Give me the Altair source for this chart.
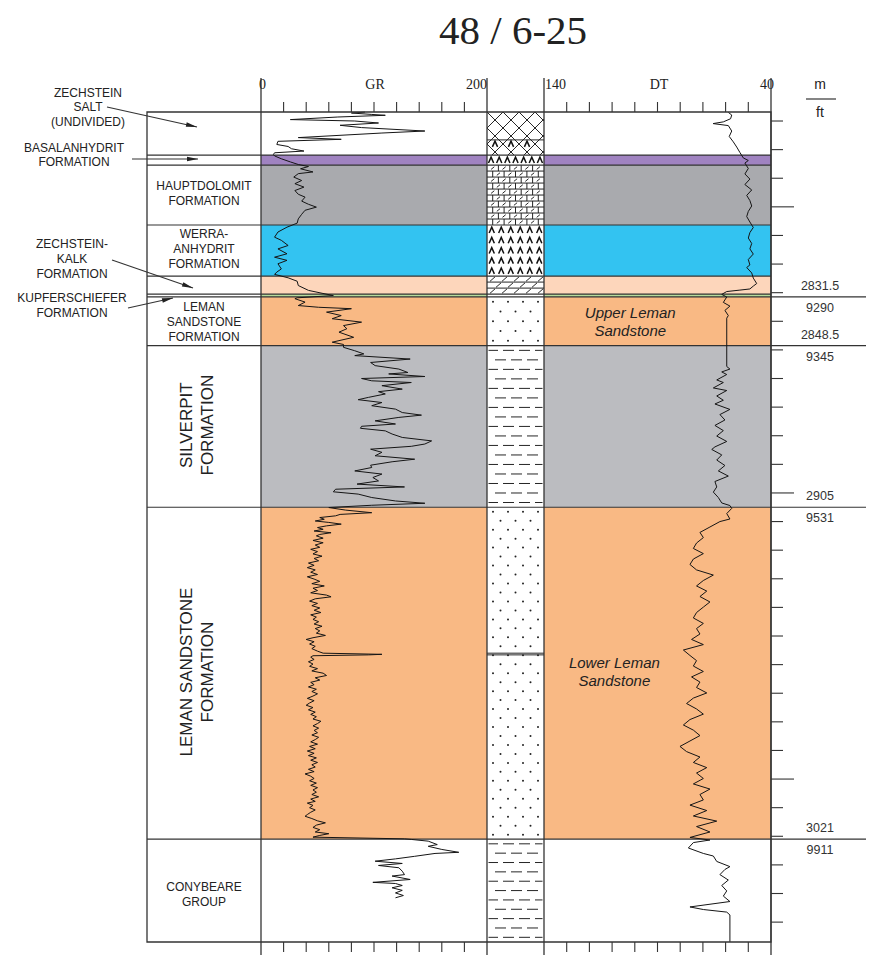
import altair as alt
import numpy as np
import pandas as pd

TITLE = "48 / 6-25"
DEPTH_TOP, DEPTH_BOT = 2766.85, 3056.95

# ---- formations (metres) ----
form_top = [2766.85, 2781.9, 2785.4, 2806.35, 2824.2, 2830.5, 2831.5, 2848.5, 2905.0, 3021.0]
form_bot = form_top[1:] + [DEPTH_BOT]
form_color = ["#ffffff", "#a083c1", "#a9aaae", "#33c3f1", "#fdd6bb", "#b7db9c",
              "#f9b984", "#bbbcc0", "#f9b984", "#ffffff"]

# ---- lithology column ----
lith_top = [2766.85, 2776.6, 2781.9, 2785.4, 2806.35, 2824.2, 2830.5, 2831.5, 2848.5, 2905.0, 3021.0]
lith_kind = ["salt", "salt_anhydrite", "anhydrite", "dolomite", "anhydrite", "limestone",
             "none", "sand", "shale", "sand", "shale"]
lith_breaks = [2956.3]

# ---- depth annotations ----
major_m = [2831.5, 2848.5, 2905.0, 3021.0]
major_m_label = ["2831.5", "2848.5", "2905", "3021"]
major_ft_label = ["9290", "9345", "9531", "9911"]
depth_ticks = list(range(2770, 3051, 10))
gr_ticks = list(range(20, 200, 20))
dt_ticks = list(range(50, 140, 10))

# ---- GR log (API) ----
gr_depth = [
    2766.9, 2767.2, 2767.7, 2768.0, 2768.6, 2769.5, 2770.0, 2770.7, 2771.5, 2772.3, 2773.5, 2774.2,
    2775.8, 2776.4, 2777.1, 2778.2, 2778.9, 2779.7, 2780.5, 2781.1, 2781.7, 2782.2, 2783.2, 2784.3,
    2785.2, 2785.9, 2786.7, 2787.8, 2788.4, 2789.6, 2790.8, 2791.9, 2793.1, 2794.3, 2795.6, 2796.6,
    2798.0, 2799.1, 2800.1, 2801.2, 2802.6, 2804.2, 2805.7, 2807.1, 2808.8, 2810.6, 2811.7, 2813.5,
    2814.7, 2816.4, 2817.6, 2818.7, 2819.9, 2821.7, 2822.8, 2823.6, 2824.8, 2826.0, 2827.5, 2829.2,
    2830.2, 2831.0, 2831.8, 2832.1, 2833.3, 2834.5, 2835.1, 2835.6, 2836.8, 2838.0, 2839.1, 2840.3,
    2841.5, 2842.6, 2843.8, 2845.6, 2847.3, 2848.1, 2849.1, 2850.3, 2851.4, 2852.0, 2853.2, 2854.4,
    2855.5, 2856.7, 2857.9, 2858.4, 2859.3, 2860.0, 2860.8, 2861.4, 2862.5, 2863.7, 2864.6, 2865.4,
    2866.6, 2867.4, 2868.4, 2869.5, 2870.7, 2871.9, 2872.8, 2873.6, 2874.8, 2875.9, 2876.7, 2877.4,
    2878.3, 2879.4, 2880.6, 2881.8, 2882.9, 2883.7, 2884.7, 2885.8, 2887.0, 2888.2, 2889.1, 2890.3,
    2891.1, 2892.3, 2893.4, 2894.6, 2895.8, 2896.9, 2897.9, 2898.7, 2899.6, 2900.4, 2901.6, 2902.8,
    2903.6, 2904.3, 2905.1, 2906.0, 2906.9, 2907.5, 2908.0, 2908.6, 2909.2, 2909.8, 2910.3, 2910.9,
    2911.5, 2912.1, 2912.7, 2913.3, 2913.9, 2914.5, 2915.0, 2915.8, 2916.6, 2917.4, 2918.2, 2919.0,
    2919.7, 2920.5, 2921.3, 2922.1, 2922.9, 2923.7, 2924.5, 2925.3, 2926.1, 2926.9, 2927.7, 2928.5,
    2929.3, 2930.1, 2930.9, 2931.7, 2932.5, 2933.3, 2934.1, 2934.9, 2935.7, 2936.3, 2937.0, 2937.8,
    2938.6, 2939.4, 2940.2, 2941.0, 2941.8, 2942.6, 2943.4, 2944.2, 2945.0, 2945.8, 2946.6, 2947.4,
    2948.2, 2949.0, 2949.8, 2950.6, 2951.2, 2952.0, 2952.8, 2953.6, 2954.4, 2955.3, 2956.0, 2956.4,
    2956.6, 2956.9, 2957.4, 2958.2, 2959.0, 2959.8, 2960.6, 2961.4, 2962.2, 2963.0, 2963.8, 2964.6,
    2965.4, 2966.2, 2967.0, 2967.8, 2968.6, 2969.4, 2970.2, 2971.0, 2971.8, 2972.6, 2973.4, 2974.2,
    2975.0, 2975.8, 2976.6, 2977.4, 2978.2, 2979.0, 2979.8, 2980.6, 2981.4, 2982.2, 2983.0, 2983.8,
    2984.6, 2985.4, 2986.2, 2987.0, 2987.8, 2988.6, 2989.4, 2990.2, 2991.0, 2991.8, 2992.6, 2993.4,
    2994.2, 2995.0, 2995.8, 2996.6, 2997.4, 2998.2, 2999.0, 2999.8, 3000.6, 3001.4, 3002.2, 3003.0,
    3003.8, 3004.6, 3005.4, 3006.2, 3007.0, 3007.8, 3008.4, 3009.2, 3010.0, 3010.8, 3011.6, 3012.4,
    3013.0, 3013.8, 3014.6, 3015.3, 3016.1, 3016.9, 3017.7, 3018.5, 3019.1, 3019.7, 3020.3, 3020.9,
    3021.1, 3021.7, 3022.9, 3023.5, 3024.6, 3025.6, 3026.0, 3027.0, 3027.9, 3028.7, 3029.5, 3030.2,
    3031.0, 3032.2, 3033.4, 3033.9, 3035.1, 3036.1, 3036.5, 3037.2, 3038.0, 3038.9, 3039.8, 3040.7,
    3041.5,
]
gr_value = [
    92, 80, 98, 110, 68, 26, 83, 104, 70, 89, 145, 107,
    33, 71, 15, 14, 24, 27, 38, 12, 11, 12, 18, 26,
    33, 42, 35, 46, 33, 29, 36, 30, 38, 30, 33, 39,
    36, 42, 49, 39, 36, 33, 32, 23, 15, 12, 18, 24,
    15, 23, 12, 23, 15, 18, 14, 12, 24, 32, 33, 42,
    54, 64, 32, 30, 39, 33, 51, 80, 58, 71, 63, 89,
    73, 76, 69, 82, 63, 73, 73, 83, 91, 83, 132, 97,
    101, 122, 130, 113, 145, 89, 98, 133, 107, 125, 104, 110,
    95, 86, 107, 98, 119, 125, 142, 122, 101, 119, 89, 88,
    110, 116, 125, 151, 145, 133, 97, 107, 101, 136, 116, 97,
    98, 83, 107, 99, 104, 85, 127, 66, 64, 86, 98, 119,
    145, 98, 60, 75, 98, 70, 66, 52, 56, 48, 60, 71,
    58, 50, 55, 47, 62, 52, 49, 55, 46, 55, 48, 52,
    44, 50, 46, 54, 47, 51, 42, 47, 41, 48, 44, 50,
    41, 47, 52, 45, 56, 46, 50, 44, 58, 62, 48, 43,
    50, 45, 52, 47, 53, 44, 49, 46, 51, 47, 54, 48,
    52, 49, 57, 46, 40, 47, 43, 48, 45, 50, 55, 107,
    95, 46, 44, 47, 42, 46, 43, 50, 45, 55, 58, 48,
    52, 44, 47, 42, 49, 45, 50, 46, 41, 47, 43, 40,
    46, 42, 48, 44, 49, 46, 53, 50, 46, 51, 47, 50,
    45, 51, 48, 44, 50, 43, 48, 41, 47, 42, 49, 44,
    50, 45, 48, 42, 47, 39, 44, 47, 43, 49, 44, 50,
    46, 49, 45, 51, 44, 48, 41, 46, 43, 48, 44, 41,
    39, 45, 50, 57, 49, 46, 52, 48, 60, 52, 46, 127,
    133, 148, 156, 148, 160, 175, 154, 136, 119, 101, 125, 104,
    122, 125, 127, 116, 132, 99, 119, 125, 116, 125, 119, 126,
    119,
]

# ---- DT log (us/ft) ----
dt_depth = [
    2767.0, 2767.9, 2769.2, 2770.3, 2770.9, 2771.6, 2773.5, 2775.4, 2777.3, 2779.1, 2781.0, 2782.9,
    2783.8, 2784.7, 2786.6, 2788.5, 2790.3, 2792.2, 2794.1, 2796.0, 2797.8, 2799.7, 2801.6, 2803.4,
    2805.3, 2807.2, 2809.0, 2810.9, 2812.8, 2814.7, 2816.5, 2818.4, 2820.3, 2821.2, 2823.1, 2824.9,
    2826.8, 2827.7, 2828.7, 2829.1, 2829.6, 2830.6, 2831.5, 2833.4, 2834.7, 2836.2, 2838.0, 2838.9,
    2855.8, 2856.7, 2857.7, 2858.6, 2860.5, 2861.4, 2863.3, 2864.2, 2866.1, 2867.6, 2868.9, 2870.8,
    2872.6, 2874.5, 2876.4, 2878.2, 2880.1, 2882.0, 2883.9, 2884.8, 2886.7, 2888.5, 2890.4, 2892.3,
    2894.1, 2896.0, 2897.9, 2899.7, 2901.6, 2903.5, 2904.4, 2905.4, 2907.2, 2909.1, 2910.0, 2911.9,
    2913.8, 2915.6, 2917.5, 2919.4, 2921.2, 2923.1, 2925.0, 2926.9, 2928.7, 2930.6, 2932.5, 2934.3,
    2936.2, 2938.1, 2939.9, 2941.8, 2943.7, 2945.6, 2947.4, 2949.3, 2951.2, 2953.0, 2954.9, 2956.8,
    2958.6, 2960.5, 2962.4, 2964.3, 2966.1, 2968.0, 2969.9, 2971.7, 2973.6, 2975.5, 2977.3, 2979.2,
    2981.1, 2982.9, 2984.8, 2986.7, 2988.6, 2990.4, 2992.3, 2994.2, 2996.0, 2997.9, 2999.8, 3001.7,
    3003.5, 3005.4, 3007.3, 3009.1, 3011.0, 3012.9, 3014.7, 3016.6, 3018.5, 3020.4, 3021.3, 3022.2,
    3024.1, 3026.0, 3026.9, 3028.8, 3030.6, 3031.6, 3033.4, 3035.3, 3037.2, 3039.1, 3040.9, 3042.8,
    3044.7, 3045.6, 3046.5, 3047.5, 3056.9,
]
dt_value = [
    58.8, 57.3, 57.8, 61.0, 65.5, 58.8, 57.3, 58.4, 56.6, 55.1, 53.7, 52.2,
    50.0, 51.5, 50.0, 51.5, 49.3, 51.5, 48.5, 50.7, 49.3, 48.5, 50.0, 50.7,
    49.3, 47.8, 49.3, 50.0, 48.5, 49.3, 47.8, 50.0, 49.3, 50.7, 48.5, 47.8,
    46.3, 47.8, 49.3, 53.7, 59.5, 61.7, 59.5, 61.0, 58.1, 60.3, 58.8, 59.5,
    59.5, 58.1, 61.7, 59.5, 63.9, 61.0, 65.4, 59.5, 63.9, 61.0, 64.7, 58.1,
    62.5, 60.3, 64.7, 61.0, 63.9, 59.5, 64.7, 66.1, 61.7, 63.9, 60.3, 63.2,
    58.8, 64.7, 63.9, 65.4, 63.2, 61.7, 58.1, 57.3, 59.5, 58.1, 62.5, 66.9,
    71.3, 69.8, 72.8, 74.2, 69.8, 74.2, 75.7, 72.8, 65.4, 69.8, 72.8, 68.3,
    71.3, 66.9, 69.8, 72.8, 74.2, 69.8, 72.8, 71.3, 75.0, 69.8, 78.6, 75.7,
    72.8, 74.2, 69.8, 75.0, 71.3, 72.8, 68.3, 74.2, 77.2, 72.8, 69.8, 75.7,
    78.6, 74.2, 71.3, 75.7, 80.1, 77.2, 71.3, 74.2, 68.3, 72.8, 69.8, 74.2,
    66.9, 71.3, 69.8, 75.7, 68.3, 74.2, 63.9, 72.8, 66.9, 75.7, 66.9, 74.2,
    76.4, 69.8, 65.4, 63.9, 58.1, 60.3, 62.5, 58.8, 61.7, 59.5, 61.0, 58.1,
    75.7, 69.8, 59.5, 58.1, 58.1,
]

# ---- text ----
box_names = ["HAUPTDOLOMIT\nFORMATION", "WERRA-\nANHYDRIT\nFORMATION",
             "LEMAN\nSANDSTONE\nFORMATION", "CONYBEARE\nGROUP"]
box_depth = [2795.3, 2814.7, 2840.25, 3040.4]
rot_names = ["SILVERPIT\nFORMATION", "LEMAN SANDSTONE\nFORMATION"]
rot_depth = [2876.3, 2962.6]
unit_names = ["Upper Leman\nSandstone", "Lower Leman\nSandstone"]
unit_depth = [2840.25, 2962.5]
unit_dt = [102, 109]
side_names = ["ZECHSTEIN\nSALT\n(UNDIVIDED)", "BASALANHYDRIT\nFORMATION",
              "ZECHSTEIN-\nKALK\nFORMATION", "KUPFERSCHIEFER\nFORMATION"]

# ================= layout =================
W, H = 858, 830
SANS, SERIF, INK = "Liberation Sans", "Liberation Serif", "#222222"
X_BOX0, X_GR0, X_LI0, X_DT0, X_DT1 = 139, 253, 479, 536, 763
LH = 14.8

gr_scale = alt.Scale(domain=[0, 200], range=[X_GR0, X_LI0])
dt_scale = alt.Scale(domain=[40, 140], range=[X_DT1, X_DT0])
li_scale = alt.Scale(domain=[0, 1], range=[X_LI0, X_DT0])
y_scale = alt.Scale(domain=[DEPTH_TOP, DEPTH_BOT], reverse=True, zero=False, nice=False)


def Y(f):
    return alt.Y(f, type="quantitative", scale=y_scale, axis=None)


base = alt.Chart(pd.DataFrame({"k": [0]}))

# ---- lithology pattern geometry ----
LITH_W = float(X_DT0 - X_LI0)
PPM = H / (DEPTH_BOT - DEPTH_TOP)
rule_rows, chev_rows, dot_rows = [], [], []


def seg(top, x0, y0, x1, y1):
    rule_rows.append({"xa": x0 / LITH_W, "xb": x1 / LITH_W,
                      "ya": top + y0 / PPM, "yb": top + y1 / PPM})


lith_bot = lith_top[1:] + [DEPTH_BOT]
for top, bot, kind in zip(lith_top, lith_bot, lith_kind):
    h = (bot - top) * PPM
    w = LITH_W
    if kind.startswith("salt"):
        step = 16.0
        off = (top - DEPTH_TOP) * PPM
        for k in range(int(np.floor((off - w) / step)) - 1, int(np.ceil((off + h + w) / step)) + 2):
            c = k * step - off
            xa, xb = max(0.0, -c), min(w, h - c)
            if xb - xa > 0.3:
                seg(top, xa, xa + c, xb, xb + c)
            xa, xb = max(0.0, c - h), min(w, c)
            if xb - xa > 0.3:
                seg(top, xa, c - xa, xb, c - xb)
        if kind == "salt_anhydrite":
            yabs = 8 * round((off + h / 2) / 8)
            x = (yabs - 8) % 16
            while x < w - 3:
                if x > 3:
                    chev_rows.append({"x": x / w, "y": top + (yabs - off) / PPM})
                x += 16
    elif kind == "anhydrite":
        nr = max(1, int(round(h / 9.7)))
        nc = 7 if nr == 1 else 6
        for i in range(nr):
            yy = (i + 0.5) * h / nr
            for j in range(nc):
                chev_rows.append({"x": (j + 0.5) / nc, "y": top + yy / PPM})
    elif kind == "dolomite":
        nr = max(1, int(round(h / 5.8)))
        rh = h / nr
        bw = 11.4
        for i in range(nr):
            y0, y1 = i * rh, (i + 1) * rh
            if i > 0:
                seg(top, 0, y0, w, y0)
            x = (0.0 if i % 2 == 0 else bw / 2) - bw
            while x < w:
                if 0.5 < x < w - 0.5:
                    seg(top, x, y0, x, y1)
                xc = x + bw / 2
                if 2 < xc < w - 2:
                    seg(top, xc - 1.6, y0 + rh * 0.72, xc + 1.6, y0 + rh * 0.28)
                x += bw
    elif kind == "limestone":
        nr = max(1, int(round(h / 6.0)))
        rh = h / nr
        for i in range(nr):
            y0, y1 = i * rh, (i + 1) * rh
            if i > 0:
                seg(top, 0, y0, w, y0)
            x = 3.0 if i % 2 == 0 else 9.0
            while x + 5 < w:
                seg(top, x, y1 - 0.8, x + 5, y0 + 0.8)
                x += 12
    elif kind == "sand":
        nr = max(1, int(round(h / 9.0)))
        rh = h / nr
        for i in range(nr):
            yy = (i + 0.5) * rh
            x = 6.0 + (7.5 if i % 2 else 0.0)
            while x < w - 3:
                dot_rows.append({"x": x / w, "y": top + yy / PPM})
                x += 15
    elif kind == "shale":
        nr = max(1, int(round(h / 9.3)))
        rh = h / nr
        for i in range(nr):
            yy = (i + 0.5) * rh
            s = -8.0 if i % 2 else 0.0
            while s < w:
                a, b = max(s, 1.5), min(s + 11, w - 1.5)
                if b - a > 2:
                    seg(top, a, yy, b, yy)
                s += 16
for d in lith_breaks:
    rule_rows.append({"xa": 0, "xb": 1, "ya": d - 0.3, "yb": d - 0.3})
    rule_rows.append({"xa": 0, "xb": 1, "ya": d + 0.3, "yb": d + 0.3})
rule_rows.append({"xa": 0, "xb": 1, "ya": lith_top[1], "yb": lith_top[1]})


def first_line_shift(txt, lh):
    """Vega puts the first line of a multi-line text on the anchor; shift to centre the block."""
    return (txt.count("\n")) * lh / 2.0


layers = []

# colour bands in the two log tracks
bands_df = pd.DataFrame({"top": form_top, "bot": form_bot, "color": form_color})
for lo, hi, sc in [(0, 200, gr_scale), (140, 40, dt_scale)]:
    layers.append(
        alt.Chart(bands_df).transform_calculate(xa=str(lo), xb=str(hi)).mark_rect().encode(
            x=alt.X("xa:Q", scale=sc, axis=None), x2="xb:Q",
            y=Y("top"), y2="bot", color=alt.Color("color:N", scale=None)))

# lithology patterns
layers.append(alt.Chart(pd.DataFrame(rule_rows)).mark_rule(color="#1a1a1a", strokeWidth=0.95).encode(
    x=alt.X("xa:Q", scale=li_scale, axis=None), x2="xb:Q", y=Y("ya"), y2="yb"))
CHEVRON = "M-0.8,0.9L0,-0.9L0.8,0.9"
layers.append(alt.Chart(pd.DataFrame(chev_rows)).mark_point(
    shape=CHEVRON, filled=False, color="#111111", strokeWidth=1.5, size=42, opacity=1).encode(
    x=alt.X("x:Q", scale=li_scale, axis=None), y=Y("y")))
layers.append(alt.Chart(pd.DataFrame(dot_rows)).mark_circle(size=4, color="#222222", opacity=1).encode(
    x=alt.X("x:Q", scale=li_scale, axis=None), y=Y("y")))

# boundaries
layers.append(alt.Chart(pd.DataFrame({"d": form_top[1:]})).mark_rule(color="#333333", strokeWidth=1.2).encode(
    x=alt.value(X_BOX0), x2=alt.value(X_DT1), y=Y("d")))
maj_df = pd.DataFrame({"d": major_m, "m": major_m_label, "ft": major_ft_label})
layers.append(alt.Chart(maj_df).mark_rule(color="#333333", strokeWidth=1.2).encode(
    x=alt.value(X_DT1), x2=alt.value(W), y=Y("d")))

# log curves
layers.append(alt.Chart(pd.DataFrame({"d": gr_depth, "v": gr_value})).mark_line(
    color="#151515", strokeWidth=1.0).encode(
    x=alt.X("v:Q", scale=gr_scale, axis=None), y=Y("d"), order="d:Q"))
layers.append(alt.Chart(pd.DataFrame({"d": dt_depth, "v": dt_value})).mark_line(
    color="#151515", strokeWidth=1.0).encode(
    x=alt.X("v:Q", scale=dt_scale, axis=None), y=Y("d"), order="d:Q"))

# frame and track edges
layers.append(base.mark_rect(fillOpacity=0, stroke="#333333", strokeWidth=1.3).encode(
    x=alt.value(X_BOX0), x2=alt.value(X_DT1), y=alt.value(0), y2=alt.value(H)))
for xe in [X_GR0, X_LI0, X_DT0, X_DT1]:
    layers.append(base.mark_rule(color="#333333", strokeWidth=1.3).encode(
        x=alt.value(xe), y=alt.value(-34), y2=alt.value(H + 13)))

# track ticks (top and bottom)
for vals, sc in [(gr_ticks, gr_scale), (dt_ticks, dt_scale)]:
    for ya, yb in [(-10, 0), (H, H + 10)]:
        layers.append(alt.Chart(pd.DataFrame({"v": vals})).mark_rule(color="#333333", strokeWidth=1.1).encode(
            x=alt.X("v:Q", scale=sc, axis=None), y=alt.value(ya), y2=alt.value(yb)))

# depth ticks
short = [d for d in depth_ticks if d % 100]
longt = [d for d in depth_ticks if d % 100 == 0]
for vals, ln in [(short, 12), (longt, 23)]:
    layers.append(alt.Chart(pd.DataFrame({"d": vals})).mark_rule(color="#333333", strokeWidth=1.1).encode(
        x=alt.value(X_DT1), x2=alt.value(X_DT1 + ln), y=Y("d")))

# depth labels
layers.append(alt.Chart(maj_df).mark_text(font=SANS, fontSize=12.5, color="#333333", dy=-11).encode(
    x=alt.value(812), y=Y("d"), text="m:N"))
layers.append(alt.Chart(maj_df).mark_text(font=SANS, fontSize=12.5, color="#333333", dy=11).encode(
    x=alt.value(812), y=Y("d"), text="ft:N"))


def label(txt, x, y, size=12, font=SANS, align="center", lh=LH, **kw):
    return base.mark_text(text=txt, fontSize=size, font=font, lineBreak="\n", align=align,
                          baseline="middle", lineHeight=lh, color=INK, **kw).encode(
        x=alt.value(x), y=alt.value(y - first_line_shift(txt, lh)))


layers.append(label("m", 812, -27, size=14))
layers.append(base.mark_rule(color="#333333", strokeWidth=1.2).encode(
    x=alt.value(798), x2=alt.value(828), y=alt.value(-13)))
layers.append(label("ft", 812, 1, size=14))

# top scale labels
for txt, x, al in [("0", 254.5, "center"), ("GR", 367, "center"), ("200", X_LI0, "right"),
                   ("140", X_DT0 + 1, "left"), ("DT", 651, "center"), ("40", X_DT1 + 3, "right")]:
    layers.append(label(txt, x, -27, size=14, font=SERIF, align=al))

# title
layers.append(label(TITLE, 505, -80, size=41, font=SERIF))

# box labels (anchored on their first line)
box_first = [d - first_line_shift(n, LH) / PPM for n, d in zip(box_names, box_depth)]
layers.append(alt.Chart(pd.DataFrame({"n": box_names, "d": box_first})).mark_text(
    font=SANS, fontSize=12, lineBreak="\n", lineHeight=LH, color=INK).encode(
    x=alt.value(196), y=Y("d"), text="n:N"))
layers.append(alt.Chart(pd.DataFrame({"n": rot_names, "d": rot_depth})).mark_text(
    font=SANS, fontSize=17, lineBreak="\n", lineHeight=21.6, angle=270, color=INK).encode(
    x=alt.value(178.5), y=Y("d"), text="n:N"))
unit_first = [d - first_line_shift(n, 18) / PPM for n, d in zip(unit_names, unit_depth)]
layers.append(alt.Chart(pd.DataFrame({"n": unit_names, "d": unit_first, "v": unit_dt})).mark_text(
    font=SANS, fontSize=15, fontStyle="italic", lineBreak="\n", lineHeight=18, color=INK).encode(
    x=alt.X("v:Q", scale=dt_scale, axis=None), y=Y("d"), text="n:N"))

# side annotations with arrows
side_pos = [(80, -4.5), (66, 43), (64, 147), (64, 193.5)]
arrows = [((99, -5), (189, 15), 12.5), ((124, 47), (190, 47), 0),
          ((104, 148), (185, 176), 19), ((120, 196), (165, 186), 347)]
ARROW = "M0,0L-2,-0.42L-2,0.42Z"
for name, (sx, sy), ((x1, y1), (x2, y2), ang) in zip(side_names, side_pos, arrows):
    layers.append(label(name, sx, sy))
    layers.append(base.mark_rule(color="#333333", strokeWidth=1.1).encode(
        x=alt.value(x1), y=alt.value(y1), x2=alt.value(x2), y2=alt.value(y2)))
    layers.append(base.mark_point(shape=ARROW, filled=True, color="#222222", size=121,
                                  angle=ang, opacity=1).encode(x=alt.value(x2), y=alt.value(y2)))

chart = alt.layer(*layers).resolve_scale(x="independent").properties(
    width=W, height=H,
    autosize=alt.AutoSizeParams(type="none"),
    padding={"left": 0, "top": 104, "right": 0, "bottom": 13},
).configure_view(strokeWidth=0)

chart.save("out.html", embed_options={"renderer": "svg", "actions": False})
